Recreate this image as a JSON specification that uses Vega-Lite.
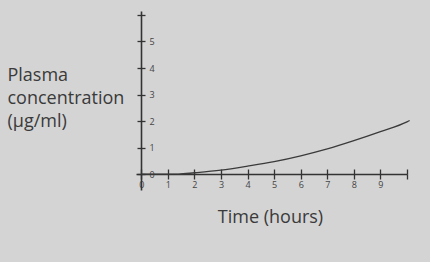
{
  "$schema": "https://vega.github.io/schema/vega-lite/v6.json",
  "autosize": "none",
  "width": 271,
  "height": 179,
  "padding": {"left": 136, "top": 11, "right": 23, "bottom": 72},
  "background": "#d4d4d4",
  "config": {"view": {"stroke": null}, "font": "Open Sans"},
  "data": {"values": [
    {"t": 0, "c": 0},
    {"t": 1.4, "c": 0},
    {"t": 2, "c": 0.05},
    {"t": 3, "c": 0.15},
    {"t": 4, "c": 0.3},
    {"t": 5, "c": 0.47},
    {"t": 6, "c": 0.69},
    {"t": 7, "c": 0.95},
    {"t": 8, "c": 1.26},
    {"t": 9, "c": 1.6},
    {"t": 10, "c": 1.97},
    {"t": 10.1, "c": 2.02}
  ]},
  "layer": [
    {
      "mark": {"type": "line", "color": "#3a3a3a", "strokeWidth": 1.3, "interpolate": "monotone"},
      "encoding": {
        "x": {"field": "t", "type": "quantitative", "scale": {"domain": [-0.2, 10], "nice": false, "zero": false},
          "axis": {"orient": "bottom", "offset": -16, "values": [0,1,2,3,4,5,6,7,8,9,10],
            "labelExpr": "datum.value == 10 ? '' : datum.label",
            "tickSize": 5, "tickColor": "#333", "tickWidth": 1.3, "domainColor": "#333", "domainWidth": 1.6,
            "labelFontSize": 9, "labelColor": "#444", "labelPadding": 1, "grid": false,
            "title": "Time (hours)", "titleFontSize": 18, "titleFontWeight": "normal", "titleColor": "#3a3a3a",
            "titleX": 134, "titleY": 43, "titleBaseline": "middle", "titleAlign": "center"}},
        "y": {"field": "c", "type": "quantitative", "scale": {"domain": [-0.6, 6.15], "nice": false, "zero": false},
          "axis": {"orient": "left", "offset": -5, "values": [0,1,2,3,4,5,6],
            "labelExpr": "datum.value == 6 ? '' : datum.label",
            "tickSize": 4, "tickColor": "#333", "tickWidth": 1.3, "domainColor": "#333", "domainWidth": 1.6,
            "labelFontSize": 9, "labelColor": "#444", "labelAlign": "left", "labelPadding": -12, "grid": false,
            "title": ["Plasma", "concentration", "(μg/ml)"], "titleFontSize": 18, "titleFontWeight": "normal",
            "titleColor": "#3a3a3a", "titleAngle": 0, "titleAlign": "left", "titleBaseline": "alphabetic",
            "titleLineHeight": 23, "titleX": -134, "titleY": 69}}
      }
    },
    {
      "mark": {"type": "line", "opacity": 0},
      "encoding": {
        "x": {"field": "t", "type": "quantitative",
          "axis": {"orient": "bottom", "offset": -16, "values": [0,1,2,3,4,5,6,7,8,9,10],
            "tickSize": -5, "tickColor": "#333", "tickWidth": 1.3, "domain": false, "labels": false, "grid": false, "title": null}},
        "y": {"field": "c", "type": "quantitative",
          "axis": {"orient": "left", "offset": -5, "values": [0,1,2,3,4,5,6],
            "tickSize": -4, "tickColor": "#333", "tickWidth": 1.3, "domain": false, "labels": false, "grid": false, "title": null}}
      }
    }
  ],
  "resolve": {"axis": {"x": "independent", "y": "independent"}}
}
